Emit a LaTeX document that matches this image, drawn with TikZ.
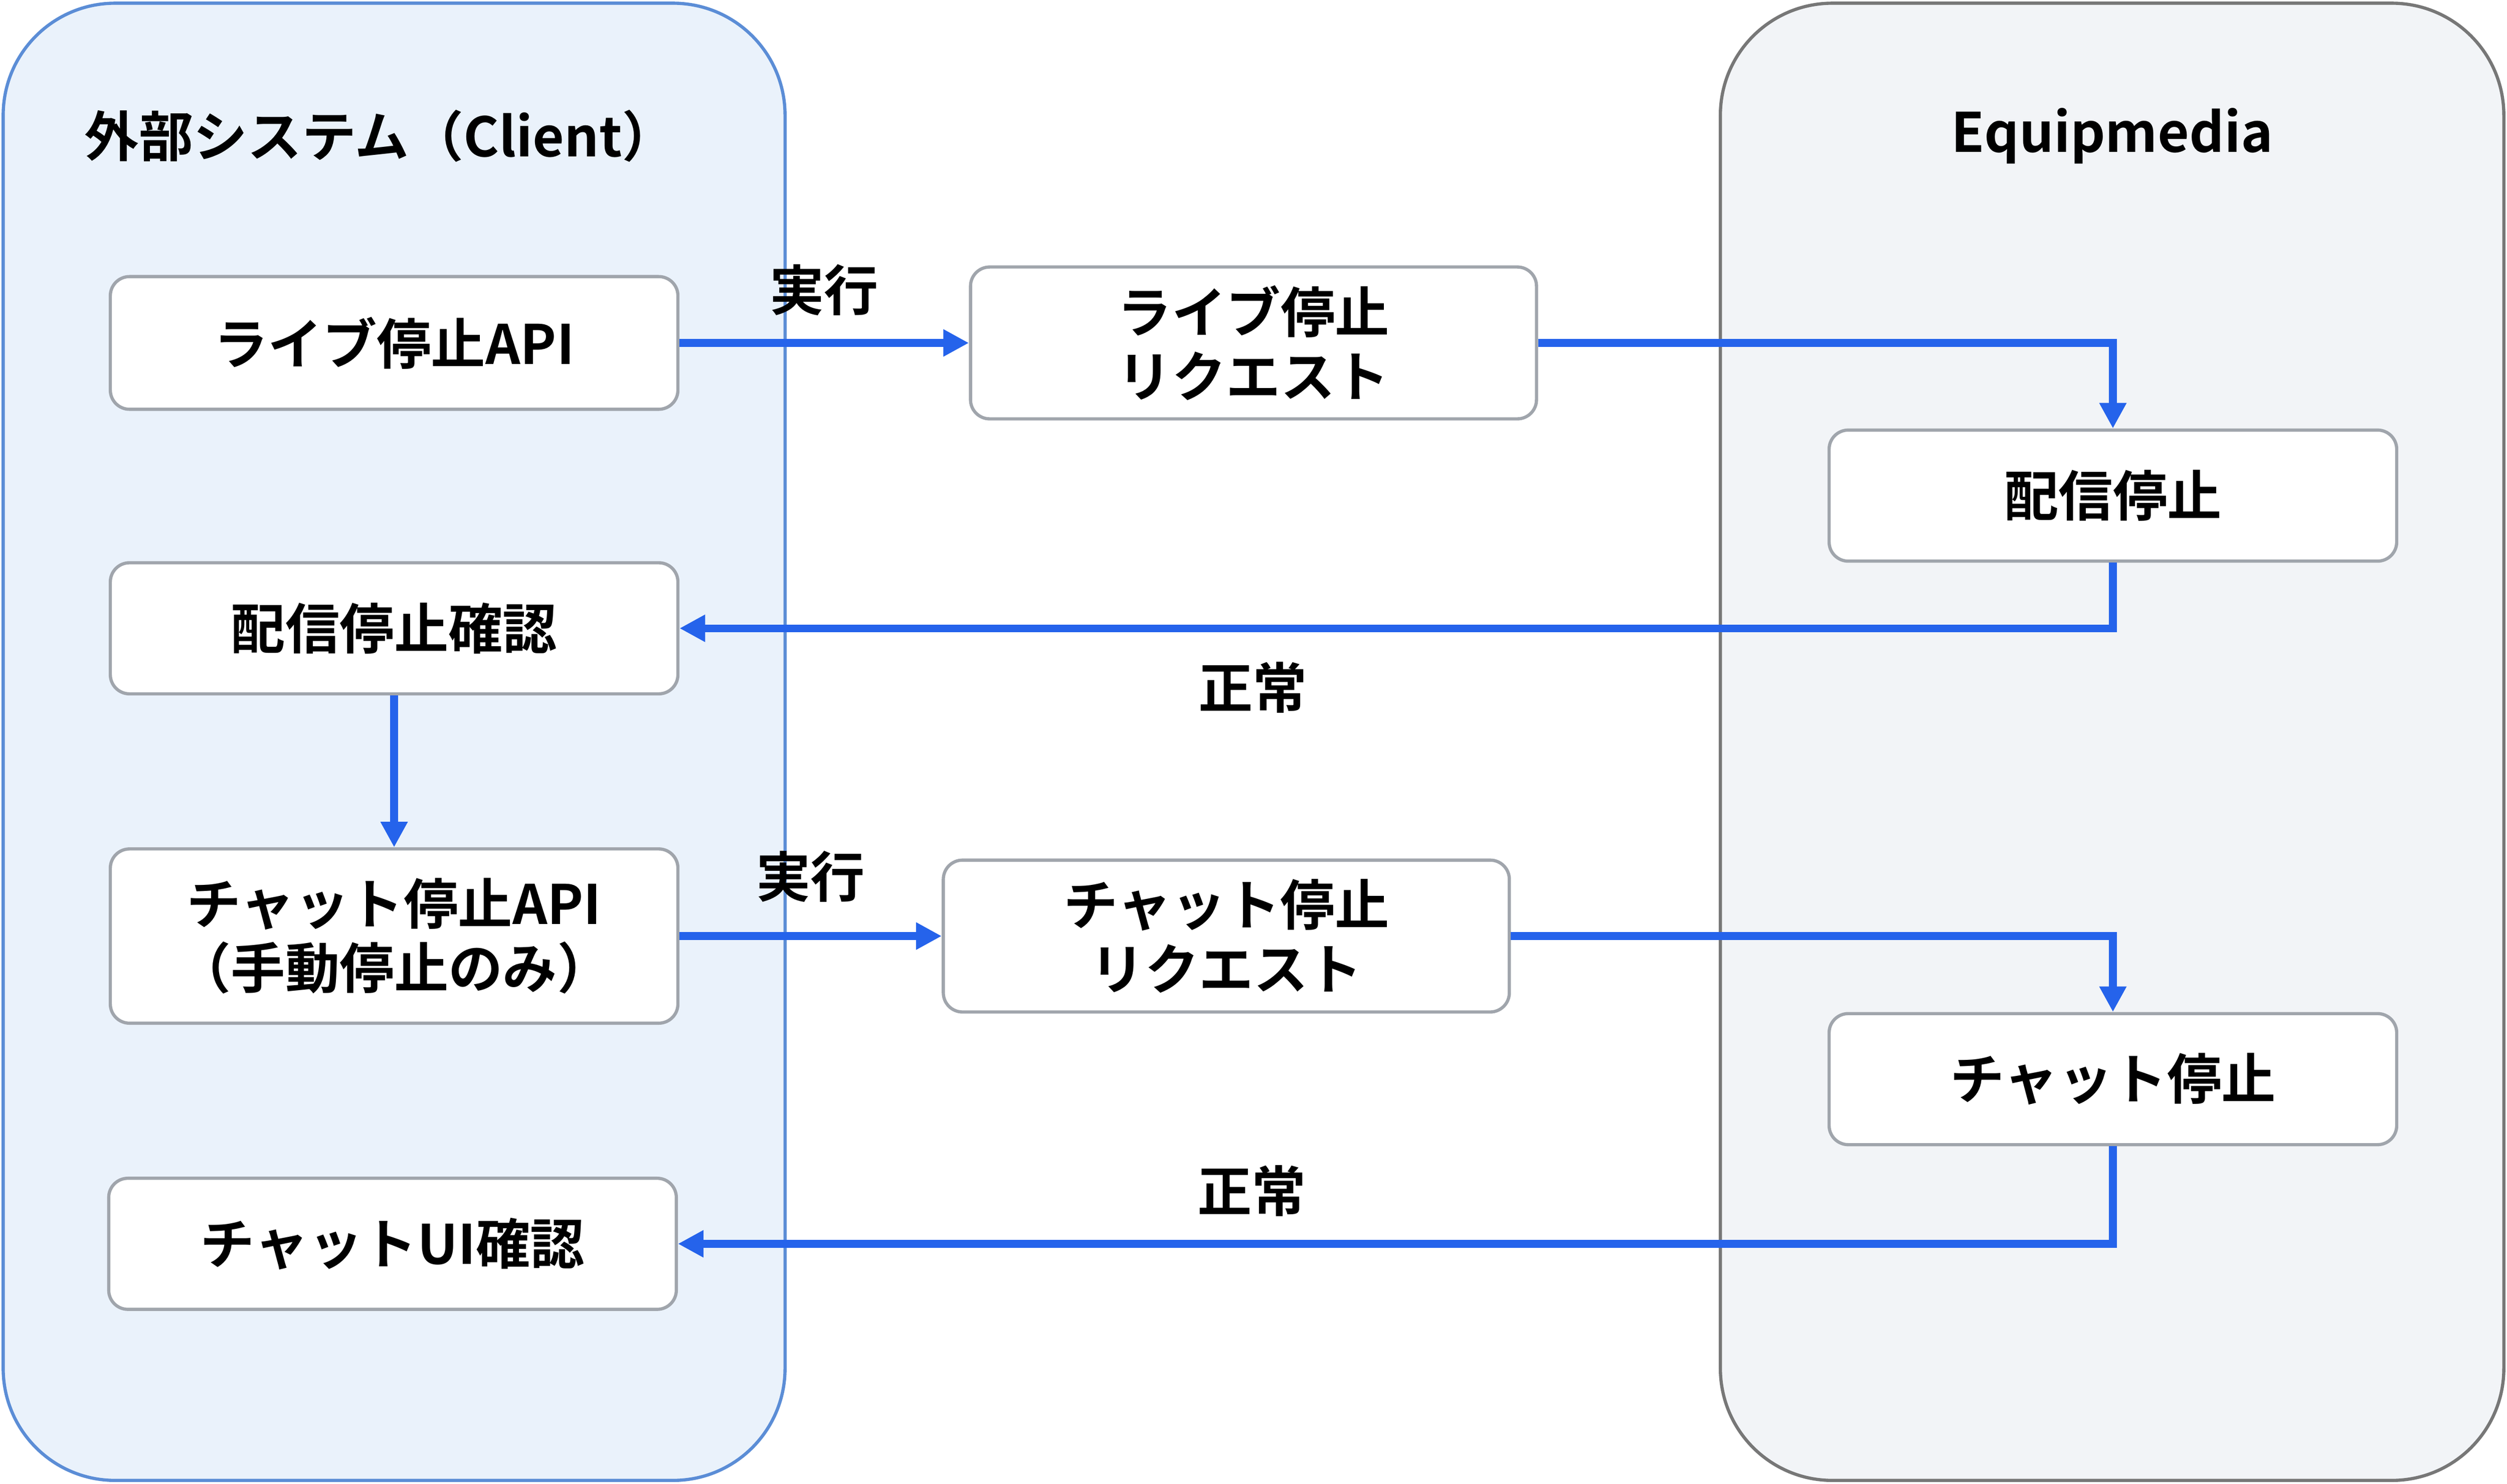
\documentclass[tikz,border=0pt]{standalone}
\usepackage{fontspec}
\setmainfont{Noto Sans CJK JP}[BoldFont={Noto Sans CJK JP Bold}]
\usetikzlibrary{arrows.meta}
\definecolor{flowblue}{RGB}{37,99,235}
\definecolor{clientfill}{RGB}{234,242,251}
\definecolor{clientline}{RGB}{91,141,214}
\definecolor{serverfill}{RGB}{242,244,247}
\definecolor{serverline}{RGB}{119,119,119}
\definecolor{boxline}{RGB}{160,165,172}
\tikzset{every picture/.style={line width=0.75pt}}
\tikzset{
  stepbox/.style={draw=boxline, fill=white, rounded corners=6pt, line width=1pt, align=center, font=\bfseries\fontsize{17}{20}\selectfont},
  flow/.style={draw=flowblue, line width=2.4pt, -{Triangle[length=8pt,width=8pt]}},
  lbl/.style={font=\bfseries\fontsize{17}{20}\selectfont}
}
\begin{document}
\begin{tikzpicture}[x=0.5pt,y=0.5pt,yscale=-1]
\useasboundingbox (0,0) rectangle (1568,928);

%Panels
\draw [fill=clientfill, draw=clientline, line width=1pt, rounded corners=35pt] (2,2) rectangle (491,926);
\draw [fill=serverfill, draw=serverline, line width=1pt, rounded corners=35pt] (1076,2) rectangle (1566,926);

% Text Node
\node (client) [lbl] at (238,85) {外部システム（Client）};
% Text Node
\node (equip) [lbl] at (1321,85) {Equipmedia};

%Boxes
\node (liveapi) [stepbox, minimum width=177.5pt, minimum height=41.5pt] at (246.5,214.5) {ライブ停止API};
\node (livereq) [stepbox, minimum width=177pt, minimum height=47.5pt] at (784,214.5) {ライブ停止\\リクエスト};
\node (livestop) [stepbox, minimum width=177.5pt, minimum height=41pt] at (1321.5,310) {配信停止};
\node (livechk) [stepbox, minimum width=177.5pt, minimum height=41pt] at (246.5,393) {配信停止確認};
\node (chatapi) [stepbox, minimum width=177.5pt, minimum height=54.5pt] at (246.5,585.5) {チャット停止API\\（手動停止のみ）};
\node (chatreq) [stepbox, minimum width=177pt, minimum height=47.5pt] at (767,585.5) {チャット停止\\リクエスト};
\node (chatstop) [stepbox, minimum width=177.5pt, minimum height=41pt] at (1321.5,675) {チャット停止};
\node (chatui) [stepbox, minimum width=177.5pt, minimum height=41pt] at (245.5,778) {チャットUI確認};

%Connectors
\draw [flow] (liveapi) -- (livereq) node (run1) [lbl, black, midway, above=4pt] {実行};
\draw [flow] (livereq.east) -| (livestop.north);
\draw [flow] (livestop.south) |- (livechk.east) node (ok1) [lbl, black, pos=0.80, below=6pt] {正常};
\draw [flow] (livechk) -- (chatapi);
\draw [flow] (chatapi) -- (chatreq) node (run2) [lbl, black, midway, above=6pt] {実行};
\draw [flow] (chatreq.east) -| (chatstop.north);
\draw [flow] (chatstop.south) |- (chatui.east) node (ok2) [lbl, black, pos=0.80, above=4pt] {正常};

\end{tikzpicture}
\end{document}
